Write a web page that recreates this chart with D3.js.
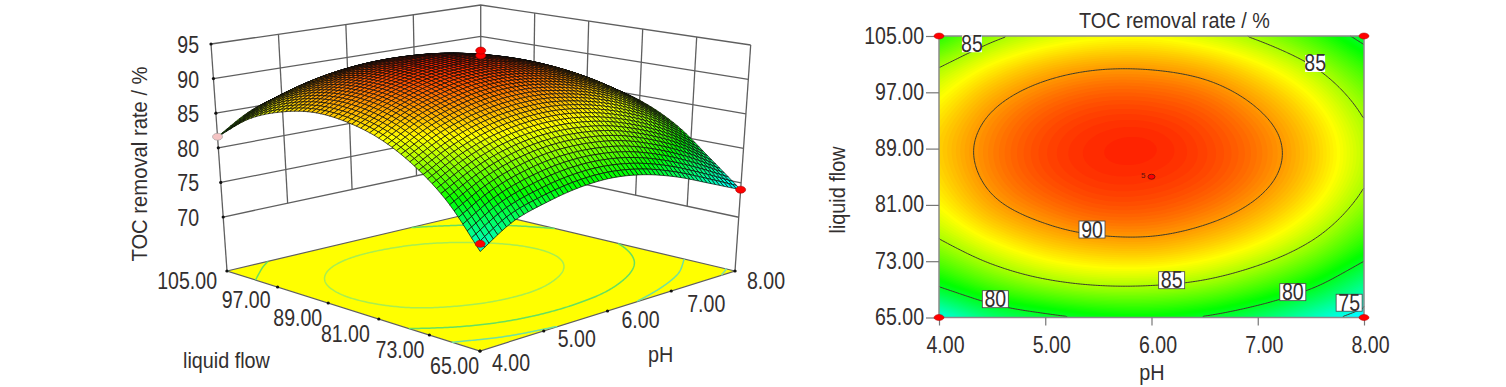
<!DOCTYPE html>
<html>
<head>
<meta charset="utf-8">
<script src="https://cdn.jsdelivr.net/npm/d3@7"></script>
<style>
    html, body { margin: 0; padding: 0; background: #fff; }
    svg { display: block; }
    text { font-family: "Liberation Sans", Arial, sans-serif; fill: #332f2f; }
</style>
</head>
<body>
<svg id="chart" width="1506" height="387"></svg>
<script>
// Values
const phValues = [4, 4.5, 5, 5.5, 6, 6.5, 7, 7.5, 8];
const flowValues = [65, 70, 75, 80, 85, 90, 95, 100, 105];
// one row per flow value, one column per pH value
const tocGrid = [
    [75.2, 78.0, 79.4, 80.3, 80.5, 79.8, 78.3, 76.2, 74.0],
    [80.6, 83.0, 84.6, 85.4, 85.4, 84.7, 83.1, 80.8, 77.7],
    [84.3, 86.6, 88.2, 89.0, 89.1, 88.3, 86.8, 84.5, 81.4],
    [86.8, 89.2, 90.7, 91.6, 91.6, 90.8, 89.3, 87.0, 83.9],
    [88.1, 90.5, 92.1, 92.9, 92.9, 92.2, 90.7, 88.4, 85.3],
    [88.4, 90.7, 92.3, 93.1, 93.2, 92.4, 90.9, 88.6, 85.5],
    [87.4, 89.8, 91.4, 92.2, 92.2, 91.5, 89.9, 87.6, 84.5],
    [85.3, 87.7, 89.3, 90.1, 90.1, 89.4, 87.8, 85.5, 82.4],
    [81.6, 84.4, 86.0, 86.8, 86.9, 86.1, 84.6, 82.3, 79.2]
];
const zTicks = [70, 75, 80, 85, 90, 95];
const phTicks = [4, 5, 6, 7, 8];
const flowTicks = [65, 73, 81, 89, 97, 105];
const contourLevels = [75, 80, 85, 90];
const contourLabels = [
    { level: 85, pH: 4.31, flow: 103.9 },
    { level: 90, pH: 5.44, flow: 77.5 },
    { level: 80, pH: 4.53, flow: 67.6 },
    { level: 85, pH: 6.19, flow: 70.3 },
    { level: 80, pH: 7.33, flow: 68.6 },
    { level: 75, pH: 7.86, flow: 67.1 },
    { level: 85, pH: 7.54, flow: 101.1 }
];
// design points of the 3D plot
const designPoints = [
    { pH: 4, flow: 105, toc: 81.6, below: true },
    { pH: 8, flow: 65, toc: 74.0 },
    { pH: 4, flow: 65, toc: 76.2 },
    { pH: 6, flow: 85, toc: 94.0 },
    { pH: 6, flow: 85, toc: 94.7 }
];
const cornerPoints = [[4, 65], [8, 65], [4, 105], [8, 105]];
const centerPoint = { pH: 6, flow: 85, count: 5 };

const zFloor = 62.2;
const colour = d3.scaleLinear()
    .domain([68, 74.4, 80.7, 87, 94.2])
    .range(["#0000ff", "#00ffff", "#00ff00", "#ffff00", "#ff0000"]);

const svg = d3.select("#chart");

// Catmull-Rom through the read values, so the mesh and the colours stay smooth
function catmull(a, b, c, d, t) {
    return 0.5 * (2 * b + (c - a) * t + (2 * a - 5 * b + 4 * c - d) * t * t + (3 * b - a - 3 * c + d) * t * t * t);
}
function pick(arr, i) {
    if (i < 0) return 2 * arr[0] - arr[1];
    if (i >= arr.length) return 2 * arr[arr.length - 1] - arr[arr.length - 2];
    return arr[i];
}
function tocAt(pH, flow) {
    const fx = (pH - phValues[0]) / (phValues[1] - phValues[0]);
    const fy = (flow - flowValues[0]) / (flowValues[1] - flowValues[0]);
    const ix = Math.min(Math.floor(fx), phValues.length - 2);
    const iy = Math.min(Math.floor(fy), flowValues.length - 2);
    const rows = [-1, 0, 1, 2].map(function (dy) {
        const r = iy + dy;
        const row = r < 0
            ? tocGrid[0].map((v, k) => 2 * v - tocGrid[1][k])
            : r >= tocGrid.length
                ? tocGrid[tocGrid.length - 1].map((v, k) => 2 * v - tocGrid[tocGrid.length - 2][k])
                : tocGrid[r];
        return catmull(pick(row, ix - 1), pick(row, ix), pick(row, ix + 1), pick(row, ix + 2), fx - ix);
    });
    return catmull(rows[0], rows[1], rows[2], rows[3], fy - iy);
}

// Text in the picture is squeezed horizontally
function label(g, txt, x, y, size, anchor, squeeze, rotate) {
    const s = squeeze || 0.85;
    const r = rotate ? " rotate(-90)" : "";
    return g.append("text")
        .attr("transform", "translate(" + x + "," + y + ")" + r + " scale(" + s + ",1)")
        .attr("text-anchor", anchor || "start")
        .attr("font-size", size)
        .text(txt);
}

const fmt = d3.format(".2f");

// Contours as open lines: drop the parts that only follow the grid border
function openLines(contour, dx, dy, toPoint) {
    let d = "";
    function border(p, q) {
        return (p[0] === q[0] && (p[0] <= 0 || p[0] >= dx)) || (p[1] === q[1] && (p[1] <= 0 || p[1] >= dy));
    }
    contour.coordinates.forEach(function (poly) {
        poly.forEach(function (ring) {
            let pen = false;
            for (let i = 1; i < ring.length; i++) {
                if (border(ring[i - 1], ring[i])) { pen = false; continue; }
                if (!pen) d += "M" + toPoint(ring[i - 1]).join(",");
                d += "L" + toPoint(ring[i]).join(",");
                pen = true;
            }
        });
    });
    return d;
}

// Sampled grid for d3.contours, samples sit in the cell centres
const dx = 170, dy = 112;
const pHOfCell = d3.scaleLinear().domain([0, dx]).range([4, 8]);
const flowOfCell = d3.scaleLinear().domain([0, dy]).range([105, 65]);
const sampled = new Array(dx * dy);
for (let j = 0; j < dy; j++) {
    for (let i = 0; i < dx; i++) {
        sampled[j * dx + i] = tocAt(pHOfCell(i + 0.5), flowOfCell(j + 0.5));
    }
}
const contours = d3.contours().size([dx, dy]).smooth(true);

// ---------- 3D plot ----------
const uScale = d3.scaleLinear().domain([4, 8]).range([0, 1]);
const vScale = d3.scaleLinear().domain([105, 65]).range([0, 1]);
const wScale = d3.scaleLinear().domain([zFloor, 95]).range([0, 1]);
const box = {
    L: [[227, 271], [211, 44]],
    B: [[481, 211], [480.7, 5]],
    R: [[735, 271], [750.7, 45]],
    F: [[480, 351], [480.5, 100]]
};
function project(pH, flow, z) {
    const u = uScale(pH), v = vScale(flow), w = wScale(z);
    return [0, 1].map(function (k) {
        const lo = box.L[0][k] * (1 - u) * (1 - v) + box.B[0][k] * u * (1 - v) + box.R[0][k] * u * v + box.F[0][k] * (1 - u) * v;
        const hi = box.L[1][k] * (1 - u) * (1 - v) + box.B[1][k] * u * (1 - v) + box.R[1][k] * u * v + box.F[1][k] * (1 - u) * v;
        return lo + (hi - lo) * w;
    });
}
const segment = d3.line();

const plot3d = svg.append("g").attr("class", "plot3d");
const walls = plot3d.append("g")
    .attr("fill", "none")
    .attr("stroke", "#5f5f5f")
    .attr("stroke-width", 1.3);

zTicks.forEach(function (z) {
    walls.append("path").attr("d", segment([project(4, 105, z), project(8, 105, z), project(8, 65, z)]));
});
phTicks.slice(1, -1).forEach(function (p) {
    walls.append("path").attr("d", segment([project(p, 105, 70), project(p, 105, 95)]));
});
flowTicks.slice(1, -1).forEach(function (f) {
    walls.append("path").attr("d", segment([project(8, f, 70), project(8, f, 95)]));
});
[[4, 105], [8, 105], [8, 65]].forEach(function (c) {
    walls.append("path").attr("d", segment([project(c[0], c[1], zFloor), project(c[0], c[1], 95)]));
});

// floor with its contours
plot3d.append("path")
    .attr("d", segment([project(4, 105, zFloor), project(8, 105, zFloor), project(8, 65, zFloor), project(4, 65, zFloor)]) + "Z")
    .attr("fill", "#ffff00")
    .attr("stroke", "#5f5f5f")
    .attr("stroke-width", 1.2);
const floorColour = { 75: "#7fe0a8", 80: "#70e0a0", 85: "#66e060", 90: "#a8ee50" };
plot3d.append("g").selectAll("path")
    .data(contours.thresholds(contourLevels)(sampled))
    .join("path")
    .attr("fill", "none")
    .attr("stroke", (d) => floorColour[d.value])
    .attr("stroke-width", 1.5)
    .attr("d", function (d) {
        return openLines(d, dx, dy, (q) => project(pHOfCell(q[0]), flowOfCell(q[1]), zFloor));
    });

// tick dots
const dots = [];
zTicks.forEach((z) => dots.push(project(4, 105, z)));
flowTicks.forEach((f) => dots.push(project(4, f, zFloor)));
phTicks.forEach((p) => dots.push(project(p, 65, zFloor)));
plot3d.append("g").selectAll("circle")
    .data(dots)
    .join("circle")
    .attr("cx", (d) => d[0])
    .attr("cy", (d) => d[1])
    .attr("r", 1.6)
    .attr("fill", "#111");

// surface mesh, painted from the back corner to the front corner
const meshSteps = 60;
const meshPh = d3.scaleLinear().domain([0, meshSteps]).range([4, 8]);
const meshFlow = d3.scaleLinear().domain([0, meshSteps]).range([105, 65]);
const quads = [];
for (let i = meshSteps - 1; i >= 0; i--) {
    for (let j = 0; j < meshSteps; j++) {
        const corners = [[i, j], [i + 1, j], [i + 1, j + 1], [i, j + 1]].map(function (c) {
            const p = meshPh(c[0]), f = meshFlow(c[1]);
            return { p: p, f: f, z: tocAt(p, f) };
        });
        quads.push({
            points: corners.map((c) => project(c.p, c.f, c.z)),
            z: d3.mean(corners, (c) => c.z)
        });
    }
}
plot3d.append("g").selectAll("path")
    .data(quads)
    .join("path")
    .attr("d", (d) => segment(d.points) + "Z")
    .attr("fill", (d) => colour(d.z))
    .attr("stroke", "#0a0a0a")
    .attr("stroke-width", 0.7);

// design points
plot3d.append("g").selectAll("ellipse")
    .data(designPoints)
    .join("ellipse")
    .attr("cx", (d) => project(d.pH, d.flow, d.toc)[0])
    .attr("cy", (d) => project(d.pH, d.flow, d.toc)[1])
    .attr("rx", 5)
    .attr("ry", 3.5)
    .attr("fill", (d) => (d.below ? "#f5c4c4" : "#ff0000"))
    .attr("stroke", (d) => (d.below ? "#999" : "#a00000"))
    .attr("stroke-width", 0.6);

// labels of the 3D plot
zTicks.forEach(function (z) {
    const q = project(4, 105, z);
    label(plot3d, z, 199, q[1] + 9, 23, "end");
});
const flowLabelNudge = { 105: [-10, 18], 97: [-7, 21], 89: [-6, 23], 81: [-9, 23], 73: [-5, 23], 65: [-1, 23] };
flowTicks.forEach(function (f) {
    const q = project(4, f, zFloor);
    label(plot3d, fmt(f), q[0] + flowLabelNudge[f][0], q[1] + flowLabelNudge[f][1], 23, "end");
});
const phLabelNudge = { 4: [12, 20], 5: [14, 16], 6: [14, 17], 7: [16, 21], 8: [12, 18] };
phTicks.forEach(function (p) {
    const q = project(p, 65, zFloor);
    label(plot3d, fmt(p), q[0] + phLabelNudge[p][0], q[1] + phLabelNudge[p][1], 23, "start");
});
label(plot3d, "liquid flow", 183, 368, 22, "start", 0.9);
label(plot3d, "pH", 648, 362, 22, "start", 0.9);
label(plot3d, "TOC removal rate / %", 147, 164, 22, "middle", 0.92, true);

// ---------- contour plot ----------
const x = d3.scaleLinear().domain([4, 8]).range([939, 1364]);
const y = d3.scaleLinear().domain([65, 105]).range([317.5, 36]);
const plot2d = svg.append("g").attr("class", "plot2d");

const toScreen = d3.geoTransform({
    point: function (cx, cy) {
        this.stream.point(x(pHOfCell(cx)), y(flowOfCell(cy)));
    }
});
const contourPath = d3.geoPath(toScreen);

// colour bands
const bandLevels = d3.range(72, 94, 0.2);
plot2d.append("rect")
    .attr("x", x(4)).attr("y", y(105))
    .attr("width", x(8) - x(4)).attr("height", y(65) - y(105))
    .attr("fill", colour(72));
plot2d.append("g").selectAll("path")
    .data(contours.thresholds(bandLevels)(sampled))
    .join("path")
    .attr("d", contourPath)
    .attr("fill", (d) => colour(d.value));

// contour lines
plot2d.append("g").selectAll("path")
    .data(contours.thresholds(contourLevels)(sampled))
    .join("path")
    .attr("fill", "none")
    .attr("stroke", "#3c3c2c")
    .attr("stroke-width", 1)
    .attr("d", function (d) {
        return openLines(d, dx, dy, (q) => [x(pHOfCell(q[0])), y(flowOfCell(q[1]))]);
    });

plot2d.append("rect")
    .attr("x", x(4)).attr("y", y(105))
    .attr("width", x(8) - x(4)).attr("height", y(65) - y(105))
    .attr("fill", "none")
    .attr("stroke", "#8a8a8a")
    .attr("stroke-width", 1.5);

// contour labels, the two near the top have no frame in the picture
const labelBoxes = plot2d.append("g").selectAll("g")
    .data(contourLabels)
    .join("g")
    .attr("transform", (d) => "translate(" + x(d.pH) + "," + y(d.flow) + ")");
labelBoxes.append("rect")
    .attr("x", (d) => (d.flow > 100 ? -10 : -13)).attr("y", -8.5)
    .attr("width", (d) => (d.flow > 100 ? 20 : 26)).attr("height", 17)
    .attr("fill", "#fff")
    .attr("stroke", (d) => (d.flow > 100 ? "none" : "#444"))
    .attr("stroke-width", 0.8);
labelBoxes.append("text")
    .attr("transform", "scale(0.85,1)")
    .attr("text-anchor", "middle")
    .attr("y", 8)
    .attr("font-size", 23)
    .text((d) => d.level);

// axes
const axisLeft = d3.axisLeft(y).tickValues(flowTicks).tickFormat(fmt).tickSize(13).tickPadding(2);
const axisBottom = d3.axisBottom(x).tickValues(phTicks).tickFormat(fmt).tickSize(8).tickPadding(2);
const gy = plot2d.append("g").attr("transform", "translate(" + x(4) + ",0)").call(axisLeft);
const gx = plot2d.append("g").attr("transform", "translate(0," + y(65) + ")").call(axisBottom);
[gy, gx].forEach(function (g) {
    g.select(".domain").remove();
    g.selectAll("line").attr("stroke", "#777").attr("stroke-width", 1.2);
    g.selectAll("text").attr("font-size", 23).attr("font-family", null);
});
gy.selectAll("text")
    .attr("transform", "scale(0.85,1)")
    .attr("x", -15 / 0.85)
    .attr("dy", 7);
gx.selectAll("text")
    .attr("transform", "scale(0.85,1)")
    .attr("x", 6 / 0.85)
    .attr("y", 36)
    .attr("dy", 0);

label(plot2d, "TOC removal rate / %", 1174.5, 28, 22, "middle", 0.9);
label(plot2d, "pH", 1152, 380, 22, "middle", 0.9);
label(plot2d, "liquid flow", 845, 190, 22, "middle", 0.9, true);

// design points on the contour plot
plot2d.append("g").selectAll("ellipse")
    .data(cornerPoints)
    .join("ellipse")
    .attr("cx", (d) => x(d[0]))
    .attr("cy", (d) => y(d[1]))
    .attr("rx", 5)
    .attr("ry", 3)
    .attr("fill", "#ff0000")
    .attr("stroke", "#b00000")
    .attr("stroke-width", 0.5);
plot2d.append("ellipse")
    .attr("cx", x(centerPoint.pH)).attr("cy", y(centerPoint.flow))
    .attr("rx", 3.5).attr("ry", 2.5)
    .attr("fill", "#ff0000")
    .attr("stroke", "#551111")
    .attr("stroke-width", 0.8);
plot2d.append("text")
    .attr("x", x(centerPoint.pH) - 6).attr("y", y(centerPoint.flow) + 1)
    .attr("text-anchor", "end")
    .attr("font-size", 8)
    .style("fill", "#5a1010")
    .text(centerPoint.count);
</script>
</body>
</html>
